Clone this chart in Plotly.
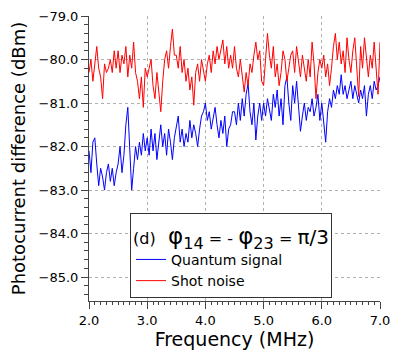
import numpy as np
import plotly.graph_objects as go

# frequency sampling grid (MHz), 151 points between 2.0 and 7.0
freq_mhz = np.linspace(2.0, 7.0, 151)

# quantum signal (dBm)
quantum_signal = [
    -82.1, -82.6, -81.9, -81.8, -82.4, -82.9, -82.5, -82.7, -83.0, -82.6,
    -82.4, -82.8, -82.5, -82.9, -82.6,
    -82.4, -82.0, -82.6, -82.2, -81.5, -81.1, -82.2, -83.0, -82.5, -82.0,
    -82.3, -81.9, -82.2, -81.7, -82.1,
    -81.8, -82.2, -81.6, -82.1, -81.7, -82.3, -81.9, -81.5, -82.0, -81.7,
    -82.2, -81.6, -81.9, -82.3, -81.8,
    -81.5, -81.3, -81.9, -81.6, -82.0, -81.7, -81.9, -81.4, -81.8, -81.5,
    -81.7, -82.0, -81.6, -81.3, -81.2,
    -81.0, -81.4, -81.2, -81.6, -81.3, -81.1, -81.5, -81.8, -81.4, -81.7,
    -81.3, -82.0, -81.6, -81.5, -81.2,
    -81.2, -81.5, -81.0, -81.4, -80.9, -81.3, -80.8, -80.55, -81.2, -81.5,
    -81.0, -81.85, -81.3, -81.0, -81.4,
    -81.0, -81.3, -80.9, -81.2, -81.4, -80.8, -81.1, -80.7, -81.3, -80.9,
    -81.5, -80.6, -80.4, -81.0, -81.4,
    -80.6, -81.0, -80.5, -81.2, -81.65, -81.3, -81.0, -81.4, -81.1, -81.2,
    -80.9, -81.3, -81.1, -80.8, -81.4,
    -81.0, -81.5, -81.9, -81.2, -80.9, -81.1, -80.7, -80.9, -80.6, -80.8,
    -80.35, -80.8, -80.6, -80.9, -80.7,
    -80.5, -80.9, -80.6, -80.8, -81.0, -80.7, -80.9, -80.6, -81.3, -80.8,
    -80.6, -80.9, -80.5, -80.7, -80.6, -80.4,
]

# shot noise (dBm)
shot_noise = [
    -80.3, -80.0, -80.5, -80.1, -79.7, -80.2, -80.4, -80.9, -80.1, -80.3,
    -80.2, -80.0, -80.3, -79.8, -80.2,
    -79.8, -80.3, -79.9, -80.1, -79.7, -80.4, -79.9, -80.2, -79.6, -80.3,
    -80.5, -80.9, -80.4, -81.1, -80.2,
    -80.4, -80.2, -80.0, -80.6, -80.9, -80.3, -80.8, -81.2, -80.5, -80.0,
    -79.8, -80.2, -79.7, -79.3, -79.9,
    -79.9, -80.2, -79.7, -80.3, -80.0, -80.5, -80.2, -80.7, -80.4, -81.05,
    -80.3, -80.1, -80.5, -80.0, -80.3,
    -80.5, -80.1, -79.9, -80.3, -79.8, -80.1, -79.7, -80.0, -79.8, -79.55,
    -80.1, -79.7, -80.2, -79.9, -80.2,
    -79.7, -80.2, -80.4, -80.0, -80.4, -80.75, -80.3, -80.6, -80.1, -80.3,
    -79.9, -79.6, -80.0, -79.8, -80.5,
    -80.6, -80.0, -79.4, -79.9, -80.2, -79.7, -80.4, -80.1, -80.6, -80.3,
    -79.8, -80.0, -80.5, -80.2, -79.9,
    -79.8, -80.3, -79.7, -80.1, -80.4, -79.9, -80.2, -80.5, -80.0, -80.4,
    -79.6, -80.1, -80.9, -80.3, -80.0,
    -80.2, -79.9, -80.4, -80.1, -80.6, -80.2, -79.7, -79.4, -80.0, -79.6,
    -80.1, -79.8, -80.3, -79.5, -80.0,
    -80.3, -79.8, -79.5, -80.1, -80.85, -79.7, -80.2, -79.5, -80.0, -80.4,
    -79.9, -80.2, -79.6, -80.3, -80.8, -79.6,
]

y_ticks = [-85.0, -84.0, -83.0, -82.0, -81.0, -80.0, -79.0]
x_ticks = [2.0, 3.0, 4.0, 5.0, 6.0, 7.0]

FONT = "DejaVu Sans"

fig = go.Figure()
fig.add_trace(go.Scatter(
    x=freq_mhz, y=quantum_signal, mode="lines", name="Quantum signal",
    line=dict(color="#0000ff", width=1),
))
fig.add_trace(go.Scatter(
    x=freq_mhz, y=shot_noise, mode="lines", name="Shot noise",
    line=dict(color="#ff0000", width=1),
))

legend_title = (
    '<span style="font-size:16px">(d) </span> φ<sub>14</sub>'
    '<span style="font-size:16px"> = - </span>φ<sub>23</sub>'
    '<span style="font-size:16px"> = </span><span style="font-size:20px">π/3</span>'
)

axis_common = dict(
    showline=True, linecolor="#444", linewidth=1,
    ticks="outside", ticklen=7, tickcolor="#444",
    showgrid=True, gridcolor="#b0b0b0", griddash="dot", gridwidth=1,
    zeroline=False, tickformat=".1f", automargin=False,
    tickfont=dict(family=FONT, size=13, color="black"),
)

fig.update_layout(
    width=415, height=354,
    margin=dict(l=89, r=35, t=16, b=53),
    paper_bgcolor="white", plot_bgcolor="white",
    showlegend=True,
    legend=dict(
        x=0.141, y=0.309, xanchor="left", yanchor="top",
        bgcolor="white", bordercolor="#333", borderwidth=1,
        font=dict(family=FONT, size=14, color="black"),
        title=dict(text=legend_title, font=dict(family=FONT, size=23, color="black")),
        itemwidth=30, tracegroupgap=0,
    ),
    xaxis=dict(
        axis_common, range=[2.0, 7.0], tickvals=x_ticks,
        minor=dict(dtick=0.1, ticks="outside", ticklen=3, tickcolor="#444", showgrid=False),
        title=dict(text="Frequency (MHz)", font=dict(family=FONT, size=19, color="black"), standoff=6),
    ),
    yaxis=dict(
        axis_common, range=[-85.55, -79.0], tickvals=y_ticks,
        minor=dict(dtick=0.2, ticks="outside", ticklen=4, tickcolor="#444", showgrid=False),
        title=dict(text="Photocurrent difference (dBm)", font=dict(family=FONT, size=18, color="black"), standoff=8),
    ),
)

# page body has an 8px default margin; drop it so the figure fills the window
fig.write_html(
    "out.html",
    config={"displayModeBar": False},
    post_script="document.body.style.margin='0px';",
)
